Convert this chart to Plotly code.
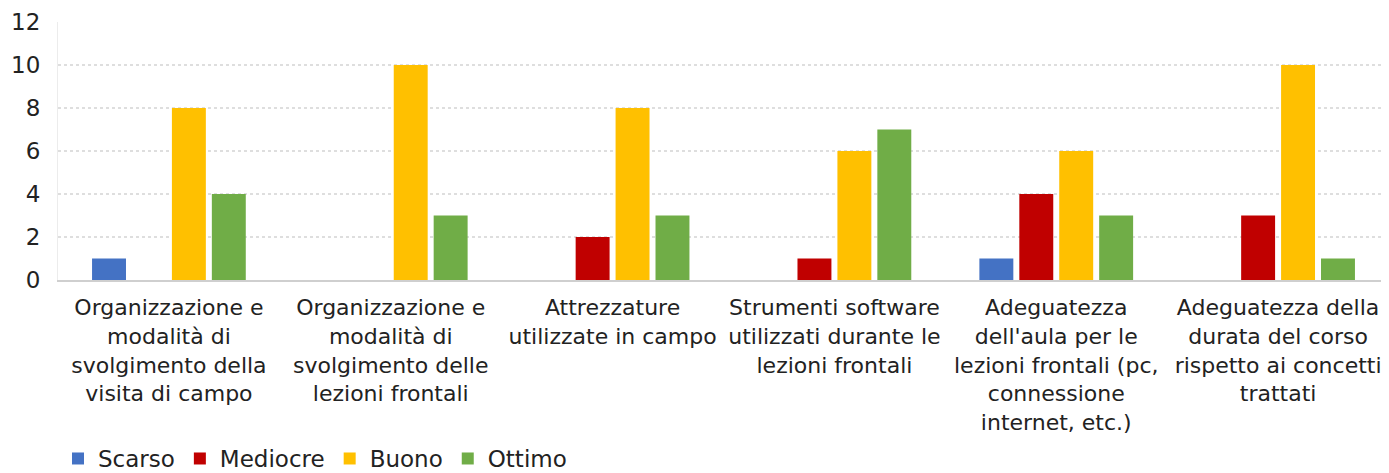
import plotly.graph_objects as go

categories = [
    "Organizzazione e<br>modalità di<br>svolgimento della<br>visita di campo",
    "Organizzazione e<br>modalità di<br>svolgimento delle<br>lezioni frontali",
    "Attrezzature<br>utilizzate in campo",
    "Strumenti software<br>utilizzati durante le<br>lezioni frontali",
    "Adeguatezza<br>dell'aula per le<br>lezioni frontali (pc,<br>connessione<br>internet, etc.)",
    "Adeguatezza della<br>durata del corso<br>rispetto ai concetti<br>trattati",
]
series_names = ["Scarso", "Mediocre", "Buono", "Ottimo"]
scarso = [1, 0, 0, 0, 1, 0]
mediocre = [0, 0, 2, 1, 4, 3]
buono = [8, 10, 8, 6, 6, 10]
ottimo = [4, 3, 3, 7, 3, 1]
colors = ["#4472C4", "#C00000", "#FFC000", "#70AD47"]

fig = go.Figure()
for name, vals, col in zip(series_names, [scarso, mediocre, buono, ottimo], colors):
    fig.add_trace(go.Bar(x=categories, y=vals, name=name, marker_color=col,
                         marker_line_width=0))

FONT = "DejaVu Sans, Liberation Sans, Arial, sans-serif"
# page body has an 8px margin, so the figure is sized/offset to compensate
fig.update_layout(
    width=1381, height=465,
    margin=dict(l=50, r=0, t=14, b=193, autoexpand=False),
    paper_bgcolor="white", plot_bgcolor="white",
    barmode="group", bargap=0.28, bargroupgap=0.15,
    font=dict(family=FONT, color="#222222"),
    showlegend=True,
    legend=dict(orientation="h", x=0.0, xanchor="left", y=-0.692, yanchor="middle",
                font=dict(size=23, color="#222222"), itemwidth=30,
                traceorder="normal", tracegroupgap=0),
)
fig.update_xaxes(tickfont=dict(size=22), showgrid=False, showline=True,
                 linecolor="#cfcfcf", linewidth=2, ticks="", automargin=False,
                 ticklabelstandoff=7)
fig.update_yaxes(range=[0, 12], dtick=2, tickfont=dict(size=23),
                 showgrid=True, gridcolor="#dedede", griddash="dot", gridwidth=2,
                 zeroline=False, showline=True, linecolor="#ececec", linewidth=1,
                 ticks="", ticklen=0, automargin=False, ticklabelstandoff=12)

fig.write_html("out.html")
